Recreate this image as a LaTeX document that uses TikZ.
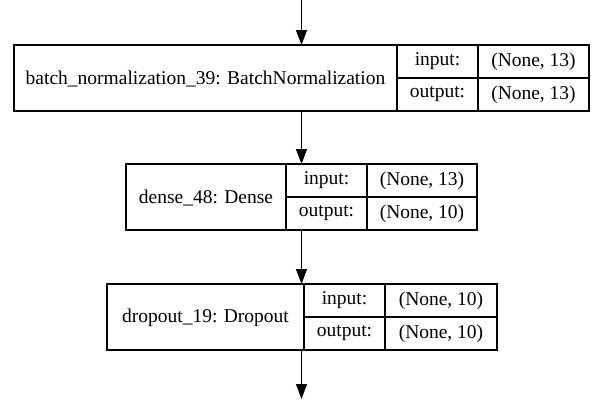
\documentclass[tikz,border=0pt]{standalone}
\usepackage{fontspec}
\setmainfont{Liberation Serif}
\usetikzlibrary{arrows.meta}
\begin{document}
\begin{tikzpicture}[x=1pt,y=-1pt,
  box/.style={draw, line width=1.3pt, inner sep=0pt, outer sep=0pt, anchor=north west},
  cell/.style={box, font=\fontsize{19.5}{23}\selectfont},
  title/.style={inner sep=0pt, outer sep=0pt, font=\fontsize{19.5}{23}\selectfont},
  link/.style={line width=1.3pt, -{Triangle[length=15pt,width=11pt]}}]
\useasboundingbox (0,0) rectangle (600,400);

% layer 1
\node[box, minimum width=575pt, minimum height=66pt] (bn) at (14,45) {};
\node[title] (bnname) at (205.5,79) {batch\_normalization\_39: BatchNormalization};
\node[cell, minimum width=81pt, minimum height=33pt] (bnin) at (397,45) {input:};
\node[cell, minimum width=81pt, minimum height=33pt] (bnout) at (397,78) {output:};
\node[cell, minimum width=111pt, minimum height=33pt] (bninv) at (478,45) {(None, 13)};
\node[cell, minimum width=111pt, minimum height=33pt] (bnoutv) at (478,78) {(None, 13)};

% layer 2
\node[box, minimum width=351pt, minimum height=66pt] (dense) at (126,164) {};
\node[title] (densename) at (206,198) {dense\_48: Dense};
\node[cell, minimum width=81pt, minimum height=33pt] (densein) at (286,164) {input:};
\node[cell, minimum width=81pt, minimum height=33pt] (denseout) at (286,197) {output:};
\node[cell, minimum width=110pt, minimum height=33pt] (denseinv) at (367,164) {(None, 13)};
\node[cell, minimum width=110pt, minimum height=33pt] (denseoutv) at (367,197) {(None, 10)};

% layer 3
\node[box, minimum width=390pt, minimum height=66pt] (drop) at (107,284) {};
\node[title] (dropname) at (205.5,318) {dropout\_19: Dropout};
\node[cell, minimum width=81pt, minimum height=33pt] (dropin) at (304,284) {input:};
\node[cell, minimum width=81pt, minimum height=33pt] (dropout) at (304,317) {output:};
\node[cell, minimum width=112pt, minimum height=33pt] (dropinv) at (385,284) {(None, 10)};
\node[cell, minimum width=112pt, minimum height=33pt] (dropoutv) at (385,317) {(None, 10)};

% connectors
\coordinate (top) at (301.5,0);
\coordinate (bot) at (301.5,399);
\draw[link] (top) -- (bn.north);
\draw[link] (bn.south) -- (dense.north);
\draw[link] (dense.south) -- (dense.south |- drop.north);
\draw[link] (dense.south |- drop.south) -- (bot);
\end{tikzpicture}
\end{document}
